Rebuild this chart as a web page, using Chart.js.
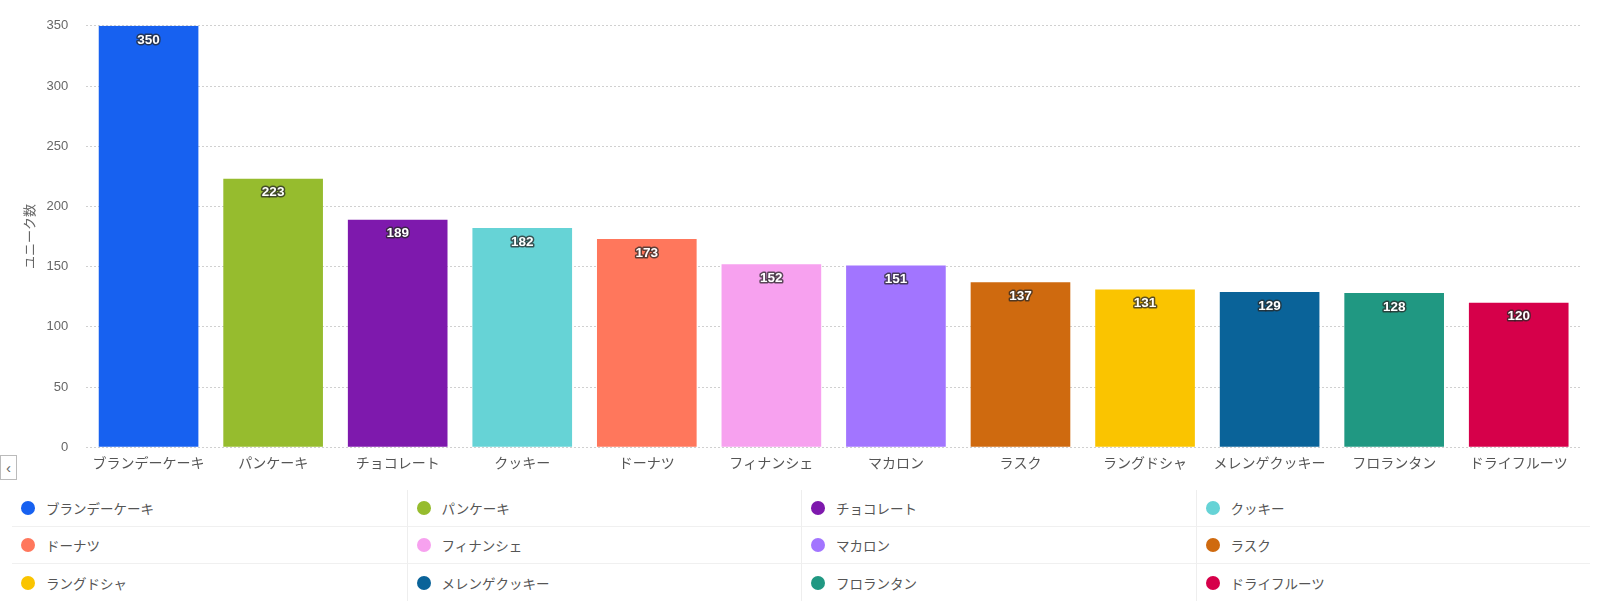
<!DOCTYPE html>
<html>
<head>
<meta charset="utf-8">
<script src="https://cdn.jsdelivr.net/npm/chart.js@4.4.1/dist/chart.umd.min.js"></script>
<style>
  body { margin: 0; background: #fff; font-family: "Liberation Sans", "Noto Sans CJK JP", sans-serif; }
  #wrap { position: relative; width: 1600px; height: 605px; overflow: hidden; }
  #chartBox { position: absolute; left: 0; top: 0; width: 1600px; height: 482px; }
  #back {
    position: absolute; left: 0; top: 455px; width: 17px; height: 25px;
    border: 1px solid #bbb; background: #fff; color: #666;
    font-size: 15px; line-height: 23px; text-align: center; box-sizing: border-box;
  }
  #legend {
    position: absolute; left: 12px; top: 490px; width: 1578px;
    display: grid; grid-template-columns: repeat(4, 1fr);
  }
  .item {
    height: 37px; display: flex; align-items: center;
    border-bottom: 1px solid #f0f0f0; border-left: 1px solid #eee;
    font-size: 13.5px; color: #555; box-sizing: border-box;
  }
  .item:nth-child(4n+1) { border-left: none; }
  .item:nth-last-child(-n+4) { border-bottom: none; }
  .dot { width: 14px; height: 14px; border-radius: 50%; margin-left: 9px; margin-right: 11px; }
</style>
</head>
<body>
<div id="wrap">
  <div id="chartBox"><canvas id="barChart"></canvas></div>
  <div id="back">&lsaquo;</div>
  <div id="legend"></div>
</div>
<script>
// Data
const categories = ["ブランデーケーキ", "パンケーキ", "チョコレート", "クッキー", "ドーナツ", "フィナンシェ",
                    "マカロン", "ラスク", "ラングドシャ", "メレンゲクッキー", "フロランタン", "ドライフルーツ"];
const uniqueCounts = [350, 223, 189, 182, 173, 152, 151, 137, 131, 129, 128, 120];
const barColors = ["#1761F0", "#96BC2E", "#7E19AD", "#66D3D6", "#FF775C", "#F7A1EF",
                   "#A275FF", "#CF6A0F", "#FAC400", "#0A6399", "#209882", "#D6004A"];
const yTicks = [0, 50, 100, 150, 200, 250, 300, 350];

const fontFamily = '"Liberation Sans", "Noto Sans CJK JP", sans-serif';

// value labels drawn inside the top of each bar
const valueLabels = {
    id: "valueLabels",
    afterDatasetsDraw(chart) {
        const ctx = chart.ctx;
        const meta = chart.getDatasetMeta(0);
        ctx.save();
        ctx.font = "bold 13.5px " + fontFamily;
        ctx.textAlign = "center";
        ctx.textBaseline = "middle";
        ctx.lineJoin = "round";
        meta.data.forEach((bar, i) => {
            const y = bar.y + 14;
            ctx.lineWidth = 3;
            ctx.strokeStyle = "rgba(40,40,40,0.75)";
            ctx.strokeText(uniqueCounts[i], bar.x, y);
            ctx.fillStyle = "#fff";
            ctx.fillText(uniqueCounts[i], bar.x, y);
        });
        ctx.restore();
    }
};

const ctx = document.getElementById("barChart").getContext("2d");
new Chart(ctx, {
    type: "bar",
    data: {
        labels: categories,
        datasets: [{
            label: "ユニーク数",
            data: uniqueCounts,
            backgroundColor: barColors,
            categoryPercentage: 1.0,
            barPercentage: 0.8
        }]
    },
    options: {
        responsive: true,
        maintainAspectRatio: false,
        animation: false,
        layout: { padding: { top: 11, right: 19, left: 19 } },
        plugins: {
            legend: { display: false },
            tooltip: { enabled: false }
        },
        scales: {
            x: {
                grid: { display: false, drawTicks: false },
                border: { display: false },
                ticks: { color: "#555", padding: 9, font: { size: 14, family: fontFamily } }
            },
            y: {
                min: 0,
                max: 350,
                afterBuildTicks: (axis) => { axis.ticks = yTicks.map(v => ({ value: v })); },
                grid: { color: "#d0d0d0", drawTicks: false },
                border: { display: false, dash: [2, 2] },
                ticks: { color: "#666", padding: 18, font: { size: 13, family: fontFamily } },
                title: {
                    display: true, text: "ユニーク数", color: "#666",
                    padding: { top: 4, bottom: -10 },
                    font: { size: 13, family: fontFamily }
                }
            }
        }
    },
    plugins: [valueLabels]
});

// legend
const legend = document.getElementById("legend");
categories.forEach((name, i) => {
    const item = document.createElement("div");
    item.className = "item";
    item.innerHTML = `<span class="dot" style="background:${barColors[i]}"></span>${name}`;
    legend.appendChild(item);
});
</script>
</body>
</html>
